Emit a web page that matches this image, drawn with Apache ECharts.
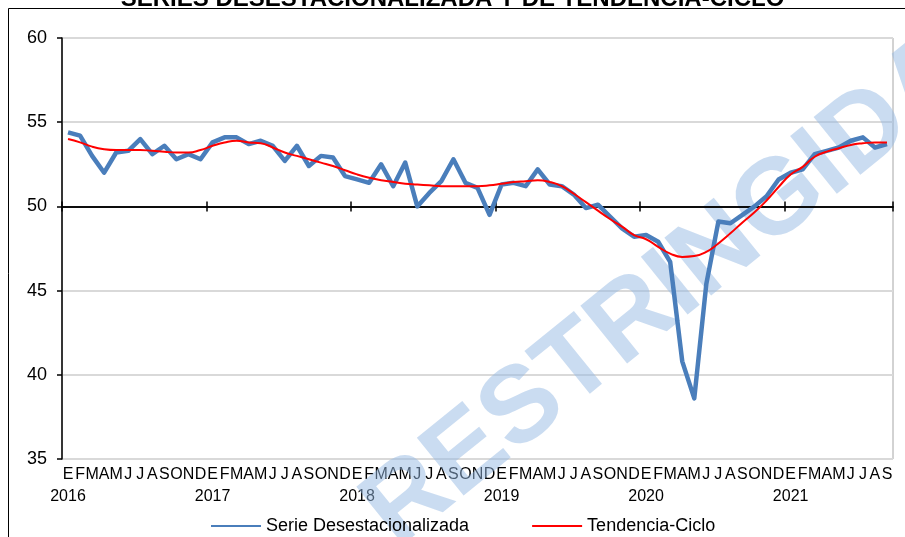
<!DOCTYPE html>
<html>
<head>
<meta charset="utf-8">
<script src="https://cdn.jsdelivr.net/npm/echarts@6/dist/echarts.min.js"></script>
<style>
  html, body {margin: 0; padding: 0; background: #fff;}
  #chart {width: 905px; height: 537px;}
</style>
</head>
<body>
<div id="chart"></div>
<script>
// letras de mes y años del eje
const monthLetters = ['E', 'F', 'M', 'A', 'M', 'J', 'J', 'A', 'S', 'O', 'N', 'D'];
const years = [2016, 2017, 2018, 2019, 2020, 2021];
const yTicks = [35, 40, 45, 50, 55, 60];

const serieDesest = [
    54.4, 54.2, 53.0, 52.0, 53.2, 53.3, 54.0, 53.1, 53.6, 52.8, 53.1, 52.8,
    53.8, 54.1, 54.1, 53.7, 53.9, 53.6, 52.7, 53.6, 52.4, 53.0, 52.9, 51.8,
    51.6, 51.4, 52.5, 51.2, 52.6, 50.0, 50.8, 51.5, 52.8, 51.4, 51.1, 49.5,
    51.3, 51.4, 51.2, 52.2, 51.3, 51.2, 50.7, 49.9, 50.1, 49.4, 48.7, 48.2,
    48.3, 47.9, 46.7, 40.8, 38.6, 45.4, 49.1, 49.0, 49.5, 50.0, 50.6, 51.6,
    52.0, 52.2, 53.1, 53.3, 53.5, 53.9, 54.1, 53.5, 53.7
];
const tendenciaCiclo = [
    54.0, 53.8, 53.55, 53.4, 53.35, 53.35, 53.35, 53.3, 53.25, 53.2, 53.2, 53.35,
    53.6, 53.8, 53.9, 53.8, 53.75, 53.5, 53.2, 53.0, 52.8, 52.6, 52.4, 52.15,
    51.9, 51.7, 51.55, 51.45, 51.35, 51.3, 51.25, 51.2, 51.2, 51.2, 51.2, 51.25,
    51.35, 51.45, 51.5, 51.55, 51.45, 51.2, 50.75, 50.25, 49.75, 49.25, 48.8, 48.3,
    48.05, 47.6, 47.2, 47.0, 47.05, 47.3, 47.8, 48.4, 49.05, 49.65, 50.35, 51.15,
    51.9, 52.35, 52.95, 53.25, 53.45, 53.65, 53.75, 53.8, 53.8
];
const refLine = 50; // eje horizontal cruza en 50

const categories = [];
const yearOf = [];
years.forEach(y => monthLetters.forEach(m => {
    if (categories.length < serieDesest.length) {
        categories.push(m);
        yearOf.push(y);
    }
}));

const font = 'Liberation Sans, Arial, sans-serif';
const yMin = yTicks[0], yMax = yTicks[yTicks.length - 1];

const chart = echarts.init(document.getElementById('chart'));
chart.setOption({
    animation: false,
    textStyle: {fontFamily: font, color: '#000'},
    title: {
        text: 'SERIES DESESTACIONALIZADA Y DE TENDENCIA-CICLO',
        left: 'center', top: -18,
        textStyle: {fontSize: 24, fontWeight: 'bold', fontFamily: font, color: '#000'}
    },
    graphic: [
        {
            type: 'rect', silent: true, z: 0,
            shape: {x: 8.5, y: 8.5, width: 1200, height: 1200},
            style: {fill: 'none', stroke: '#000', lineWidth: 1}
        },
        {
            type: 'text', silent: true, z: 1,
            x: 668, y: 292, rotation: 0.68,
            style: {
                text: 'RESTRINGIDA', fontSize: 108, fontWeight: 'bold', fontFamily: font,
                fill: 'rgba(150,186,228,0.5)', align: 'center', verticalAlign: 'middle'
            }
        }
    ],
    legend: {
        left: 205, top: 512, itemWidth: 50, itemHeight: 12, itemGap: 62,
        itemStyle: {opacity: 0},
        textStyle: {fontSize: 18, fontFamily: font, color: '#000'},
        data: ['Serie Desestacionalizada', 'Tendencia-Ciclo']
    },
    grid: {
        left: 62, right: 12, top: 38, bottom: 78,
        show: true, borderColor: '#a6a6a6', borderWidth: 1, backgroundColor: 'transparent'
    },
    xAxis: [
        {
            type: 'category', data: categories, position: 'bottom',
            axisLine: {show: false, onZero: false},
            axisTick: {show: false},
            axisLabel: {
                interval: 0, margin: 5, fontSize: 16, lineHeight: 22, color: '#000', fontFamily: font,
                formatter: (v, i) => (i % 12 === 0 ? v + '\n' + yearOf[i] : v + '\n ')
            }
        },
        {
            type: 'category', data: categories, position: 'bottom', z: 3,
            axisLine: {onZero: true, onZeroAxisIndex: 1, lineStyle: {color: '#000', width: 1.5}},
            axisTick: {show: true, interval: i => i % 12 === 0, length: 5, lineStyle: {color: '#000', width: 1.5}},
            axisLabel: {show: false}
        },
        {
            type: 'category', data: categories, position: 'bottom', z: 3,
            axisLine: {onZero: true, onZeroAxisIndex: 1, lineStyle: {color: '#000', width: 1.5}},
            axisTick: {show: true, inside: true, interval: i => i % 12 === 0, length: 5, lineStyle: {color: '#000', width: 1.5}},
            axisLabel: {show: false}
        }
    ],
    yAxis: [
        {
            type: 'value', min: yMin, max: yMax, interval: 5,
            axisLine: {show: true, lineStyle: {color: '#000', width: 1.5}},
            axisTick: {show: true, length: 5, lineStyle: {color: '#000', width: 1.5}},
            axisLabel: {fontSize: 18, color: '#000', margin: 15, fontFamily: font},
            splitLine: {lineStyle: {color: '#d9d9d9', width: 2}}
        },
        {
            // eje auxiliar para situar la línea de 50
            type: 'value', min: yMin - refLine, max: yMax - refLine, show: false,
            splitLine: {show: false}
        }
    ],
    series: [
        {
            name: 'Serie Desestacionalizada', type: 'line', data: serieDesest,
            symbol: 'none', z: 4,
            lineStyle: {color: '#4a7ebb', width: 4.5, join: 'round'},
            itemStyle: {color: '#4a7ebb'}
        },
        {
            name: 'Tendencia-Ciclo', type: 'line', data: tendenciaCiclo,
            symbol: 'none', smooth: true, z: 5,
            lineStyle: {color: '#ff0000', width: 2},
            itemStyle: {color: '#ff0000'}
        }
    ]
});
</script>
</body>
</html>
